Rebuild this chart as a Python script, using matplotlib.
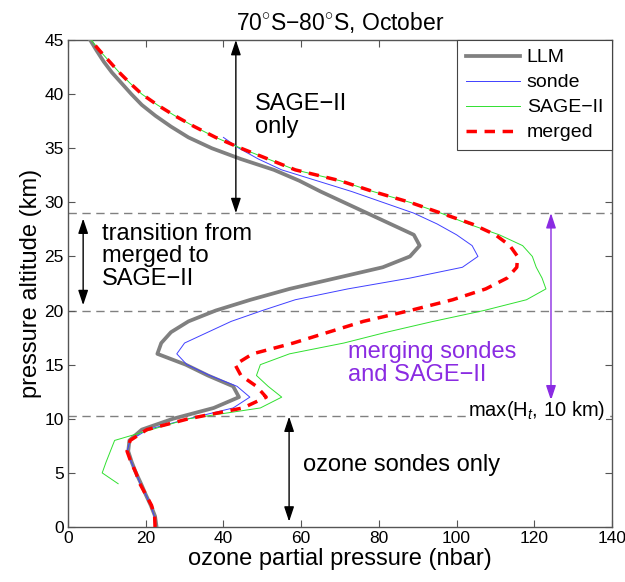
import numpy as np
import matplotlib
matplotlib.use("Agg")
import matplotlib.pyplot as plt

altitude = list(range(46))

llm = [22.8, 22.4, 21.3, 20.0, 18.8, 17.5, 16.4, 15.5, 15.8, 19.0,
       27.0, 37.5, 44.0, 42.5, 36.0, 30.3, 23.0, 24.0, 26.5, 31.0,
       38.0, 47.0, 57.0, 69.0, 81.0, 88.0, 90.5, 89.0, 83.0, 77.0,
       71.0, 65.0, 59.5, 53.0, 44.5, 37.0, 31.0, 26.5, 22.5, 19.0,
       16.3, 13.8, 11.3, 9.2, 7.4, 5.7]

sonde_alt = list(range(37))
sonde = [22.5, 22.2, 21.3, 20.0, 18.6, 17.5, 16.3, 15.2, 16.0, 20.5,
         31.0, 42.5, 46.8, 43.5, 36.5, 30.6, 28.0, 30.0, 36.0, 42.0,
         50.0, 58.5, 72.0, 88.0, 101.5, 105.5, 104.0, 100.0, 95.0, 89.0,
         81.0, 73.0, 64.0, 55.0, 49.0, 44.0, 40.0]

sage_alt = list(range(4, 46))
sage = [12.9, 8.8, 9.8, 10.9, 12.0, 21.5,
        31.0, 49.5, 55.0, 51.5, 48.5, 49.5, 57.0, 71.0, 82.0, 94.0,
        107.0, 118.0, 123.0, 122.0, 120.5, 119.5, 117.0, 111.0, 103.0, 96.0,
        88.0, 78.5, 70.0, 58.5, 51.5, 44.5, 38.0, 32.5, 27.5, 23.0,
        19.0, 16.0, 13.2, 10.7, 8.2, 6.0]

merged = [22.4, 22.3, 21.5, 20.0, 18.5, 17.5, 16.2, 15.2, 16.0, 20.3,
          31.0, 45.0, 51.0, 48.5, 44.5, 43.0, 47.5, 58.0, 67.0, 76.0,
          88.0, 99.0, 107.5, 113.0, 115.5, 115.7, 113.7, 110.0, 104.0, 96.0,
          88.0, 78.5, 70.0, 58.5, 51.5, 44.5, 38.0, 32.5, 27.5, 23.0,
          19.0, 16.0, 13.2, 10.7, 8.2, 5.8]

boundaries = [29.0, 20.0, 10.3]

plt.rcParams['font.family'] = ['Liberation Sans', 'DejaVu Sans']
plt.rcParams['mathtext.fontset'] = 'custom'
plt.rcParams['mathtext.rm'] = 'Liberation Sans'
plt.rcParams['mathtext.it'] = 'Liberation Sans:italic'

fig = plt.figure(figsize=(6.25, 5.82), dpi=100)
ax = fig.add_axes([68/625, 55/582, 544/625, 487/582])

for b in boundaries:
    ax.axhline(b, color='#808080', lw=1.0, ls=(0, (6, 4)), zorder=1)

ax.plot(llm, altitude, color='#808080', lw=2.7, label='LLM', zorder=3)
ax.plot(sonde, sonde_alt, color='#4040ff', lw=0.7, label='sonde', zorder=4)
ax.plot(sage, sage_alt, color='#30e030', lw=0.7, label='SAGE\u2212II', zorder=4)
ax.plot(merged, altitude, color='#ff0000', lw=2.5, dashes=(3.0, 2.2),
        label='merged', zorder=5)

ax.set_xlim(0, 140)
ax.set_ylim(0, 45)
ax.set_xticks(range(0, 141, 20))
ax.set_yticks(range(0, 46, 5))
ax.tick_params(direction='in', top=True, right=True, labelsize=12.5,
               length=5, color='#555555', pad=3)
for s in ax.spines.values():
    s.set_color('#555555')
    s.set_linewidth(1.0)

ax.set_xlabel('ozone partial pressure (nbar)', fontsize=17, labelpad=1)
ax.set_ylabel('pressure altitude (km)', fontsize=17, labelpad=2)
ax.set_title('70$^{\\circ}$S\u221280$^{\\circ}$S, October', fontsize=16.5, pad=7)

leg = ax.legend(loc='upper right', fontsize=14, borderaxespad=0,
                fancybox=False, framealpha=1, edgecolor='#444444',
                handlelength=2.8, labelspacing=0.38, borderpad=0.45,
                handletextpad=0.35)
leg.get_frame().set_linewidth(0.8)

astyle = '<|-|>,head_length=0.9,head_width=0.3'
ax.annotate('', xy=(43.2, 45), xytext=(43.2, 29.0),
            arrowprops=dict(arrowstyle=astyle, color='black', lw=1.0,
                            shrinkA=0, shrinkB=0))
ax.annotate('', xy=(3.9, 28.5), xytext=(3.9, 20.5),
            arrowprops=dict(arrowstyle=astyle, color='black', lw=1.0,
                            shrinkA=0, shrinkB=0))
ax.annotate('', xy=(56.9, 10.2), xytext=(56.9, 0.5),
            arrowprops=dict(arrowstyle=astyle, color='black', lw=1.0,
                            shrinkA=0, shrinkB=0))
purple = '#8a2be2'
ax.annotate('', xy=(124.3, 29.0), xytext=(124.3, 11.7),
            arrowprops=dict(arrowstyle=astyle, color=purple, lw=1.0,
                            shrinkA=0, shrinkB=0))

ax.text(48.1, 38.0, 'SAGE\u2212II\nonly', fontsize=17, ha='left', va='center',
        linespacing=1.05)
ax.text(8.7, 25.0, 'transition from\nmerged to\nSAGE\u2212II', fontsize=17,
        ha='left', va='center', linespacing=1.05)
ax.text(60.5, 5.7, 'ozone sondes only', fontsize=17, ha='left', va='center')
ax.text(72.0, 15.1, 'merging sondes\nand SAGE\u2212II', fontsize=17, color=purple,
        ha='left', va='center', linespacing=1.05)
ax.text(138.2, 10.8, 'max(H$_t$, 10 km)', fontsize=14.5, ha='right', va='center',
        bbox=dict(facecolor='white', edgecolor='none', pad=0.5))

fig.savefig('out.png', dpi=100)
